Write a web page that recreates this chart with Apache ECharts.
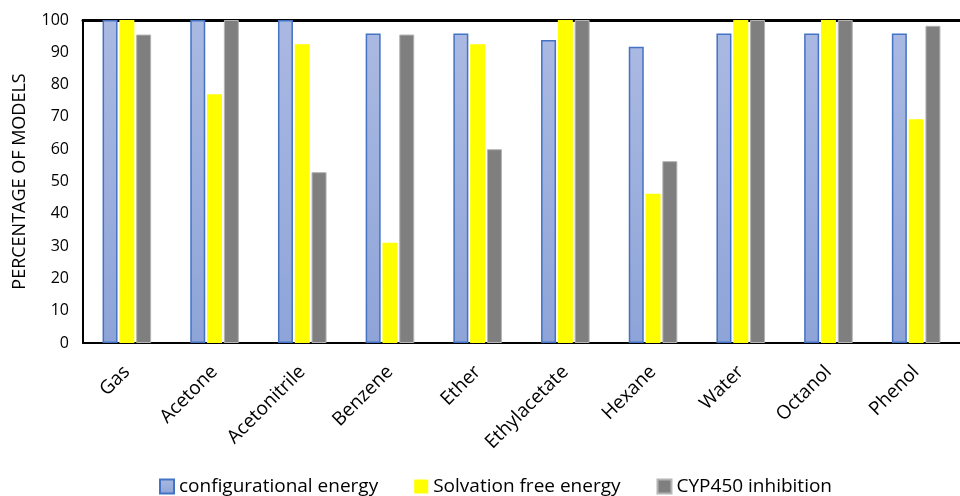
<!DOCTYPE html>
<html>
<head>
<meta charset="utf-8">
<script src="https://cdn.jsdelivr.net/npm/echarts@6/dist/echarts.min.js"></script>
<style>
  html, body { margin: 0; padding: 0; background: #fff; }
  #chart { width: 960px; height: 496px; }
</style>
</head>
<body>
<div id="chart"></div>
<script>
const categories = ["Gas", "Acetone", "Acetonitrile", "Benzene", "Ether", "Ethylacetate", "Hexane", "Water", "Octanol", "Phenol"];
const configEnergy = [100, 100, 100, 95.8, 95.8, 93.8, 91.7, 95.8, 95.8, 95.8];
const solvationEnergy = [100, 77, 92.5, 31, 92.5, 100, 46.2, 100, 100, 69.3];
const cypInhibition = [95.5, 100, 52.9, 95.5, 60, 100, 56.3, 100, 100, 98.2];
const yTicks = [0, 10, 20, 30, 40, 50, 60, 70, 80, 90, 100];

const FONT = "Open Sans";
const chart = echarts.init(document.getElementById("chart"));

const blueFill = new echarts.graphic.LinearGradient(0, 0, 0, 1, [
  { offset: 0, color: "#aab9e2" },
  { offset: 1, color: "#8ea4d8" }
]);

chart.setOption({
  animation: false,
  textStyle: { fontFamily: FONT },
  grid: { left: 83, right: -10, top: 20, bottom: 153 },
  legend: {
    bottom: -5,
    left: 154,
    icon: "rect",
    itemWidth: 14,
    itemHeight: 14,
    itemGap: 36,
    textStyle: { fontFamily: FONT, fontSize: 19, color: "#000" },
    data: ["configurational energy", "Solvation free energy", "CYP450 inhibition"]
  },
  xAxis: [
    {
      type: "category",
      data: categories,
      axisLine: { lineStyle: { color: "#000", width: 2 } },
      axisTick: { show: false },
      axisLabel: {
        rotate: 45,
        interval: 0,
        margin: 26,
        fontFamily: FONT,
        fontSize: 19,
        color: "#000"
      }
    },
    {
      type: "category",
      data: categories,
      position: "top",
      axisLine: { lineStyle: { color: "#000", width: 3 } },
      axisTick: { show: false },
      axisLabel: { show: false }
    }
  ],
  yAxis: {
    type: "value",
    min: 0,
    max: 100,
    interval: 10,
    name: "PERCENTAGE OF MODELS",
    nameLocation: "middle",
    nameGap: 54,
    nameTextStyle: { fontFamily: FONT, fontSize: 18, color: "#000" },
    axisLine: { show: true, lineStyle: { color: "#000", width: 2 } },
    axisTick: { show: false },
    splitLine: { show: false },
    axisLabel: {
      margin: 14,
      fontFamily: FONT,
      fontSize: 16,
      color: "#000",
      formatter: (v) => (yTicks.includes(v) ? String(v) : "")
    }
  },
  series: [
    {
      name: "configurational energy",
      type: "bar",
      data: configEnergy,
      barWidth: 15,
      barGap: "12%",
      barCategoryGap: "45%",
      itemStyle: { color: blueFill, borderColor: "#4472c4", borderWidth: 1.5 }
    },
    {
      name: "Solvation free energy",
      type: "bar",
      data: solvationEnergy,
      barWidth: 15,
      barGap: "12%",
      itemStyle: { color: "#ffff00" }
    },
    {
      name: "CYP450 inhibition",
      type: "bar",
      data: cypInhibition,
      barWidth: 15,
      barGap: "12%",
      itemStyle: { color: "#7f7f7f", borderColor: "#b4b4b4", borderWidth: 1 }
    }
  ]
});
</script>
</body>
</html>
